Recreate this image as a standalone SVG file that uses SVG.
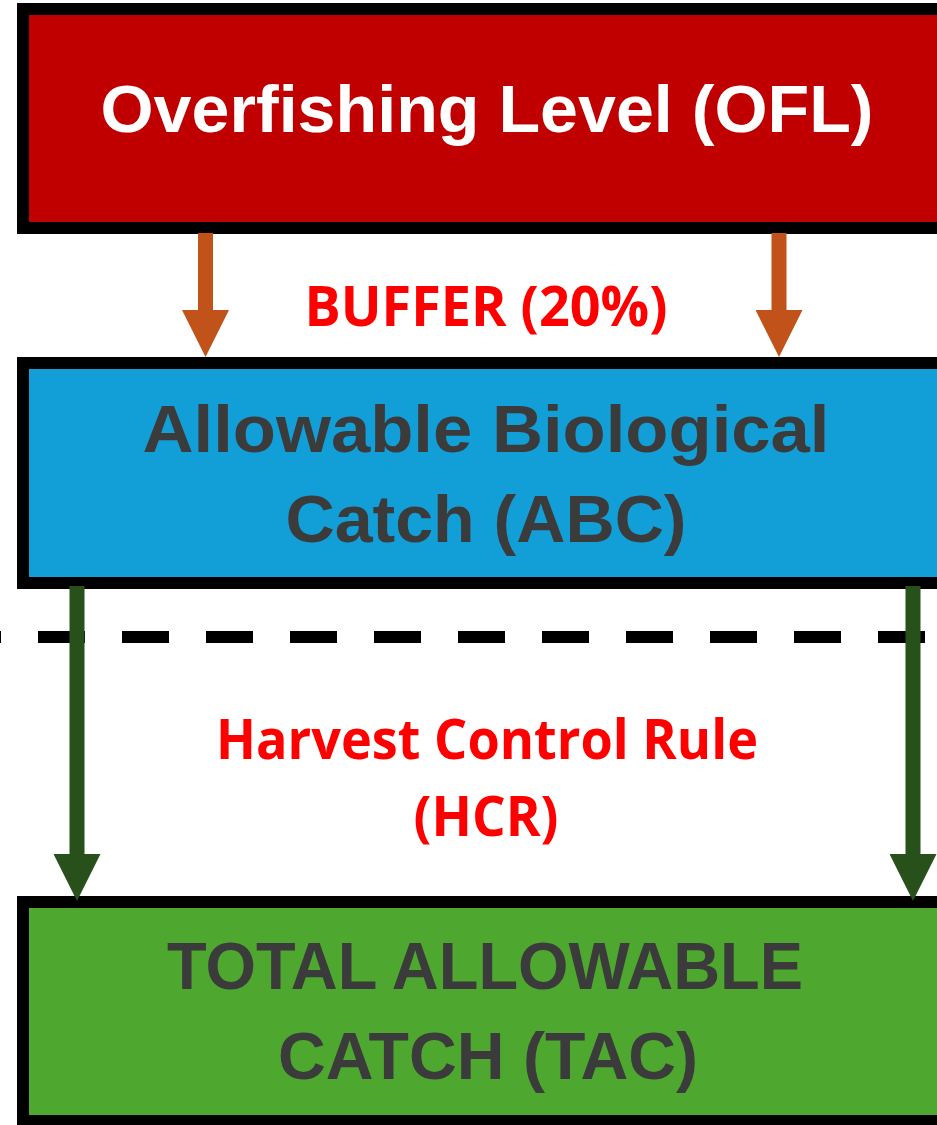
<svg xmlns="http://www.w3.org/2000/svg" width="937" height="1125" viewBox="0 0 937 1125">
  <style>
    .box { stroke: #000; stroke-width: 12; }
    .title { font-family: "Liberation Sans", Arial, sans-serif; font-weight: bold; font-size: 66px; text-anchor: middle; }
    .dark { fill: #3B3B3B; }
    .label { font-family: "Open Sans", "Liberation Sans", sans-serif; font-weight: bold; font-size: 56px; text-anchor: middle; fill: #FF0000; }
  </style>
  <defs>
    <marker id="headOrange" markerUnits="userSpaceOnUse" viewBox="0 -23.5 47 47" refX="0" refY="0" markerWidth="47" markerHeight="47" orient="auto">
      <path d="M0,-23.5 L47,0 L0,23.5 z" fill="#C0521A"/>
    </marker>
    <marker id="headGreen" markerUnits="userSpaceOnUse" viewBox="0 -23.5 47 47" refX="0" refY="0" markerWidth="47" markerHeight="47" orient="auto">
      <path d="M0,-23.5 L47,0 L0,23.5 z" fill="#27501A"/>
    </marker>
  </defs>
  <rect width="937" height="1125" fill="#FFFFFF"/>

  <g id="ofl">
    <rect class="box" x="23" y="9" width="1000" height="219" fill="#C00000"/>
    <text class="title" x="487" y="132" fill="#FFFFFF" textLength="773" lengthAdjust="spacingAndGlyphs">Overfishing Level (OFL)</text>
  </g>

  <g id="abc">
    <rect class="box" x="23" y="363" width="1000" height="220" fill="#129ED6"/>
    <text class="title dark" x="486" y="452" textLength="687" lengthAdjust="spacingAndGlyphs">Allowable Biological</text>
    <text class="title dark" x="486" y="542" textLength="401" lengthAdjust="spacingAndGlyphs">Catch (ABC)</text>
  </g>

  <g id="tac">
    <rect class="box" x="23" y="902" width="1000" height="219" fill="#4EA72E"/>
    <text class="title dark" x="485" y="989" textLength="636" lengthAdjust="spacingAndGlyphs">TOTAL ALLOWABLE</text>
    <text class="title dark" x="488" y="1079" textLength="420" lengthAdjust="spacingAndGlyphs">CATCH (TAC)</text>
  </g>

  <g id="divider">
    <line x1="-46" y1="637" x2="937" y2="637" stroke="#000" stroke-width="12" stroke-dasharray="47 37"/>
  </g>

  <g id="connectors">
    <line x1="205.5" y1="233" x2="205.5" y2="310" stroke="#C0521A" stroke-width="15" marker-end="url(#headOrange)"/>
    <line x1="779" y1="233" x2="779" y2="310" stroke="#C0521A" stroke-width="15" marker-end="url(#headOrange)"/>
    <line x1="77" y1="586" x2="77" y2="854" stroke="#27501A" stroke-width="15" marker-end="url(#headGreen)"/>
    <line x1="913" y1="586" x2="913" y2="854" stroke="#27501A" stroke-width="15" marker-end="url(#headGreen)"/>
  </g>

  <g id="labels">
    <text class="label" x="486" y="326" textLength="363" lengthAdjust="spacingAndGlyphs">BUFFER (20%)</text>
    <text class="label" x="487" y="759" textLength="542" lengthAdjust="spacingAndGlyphs">Harvest Control Rule</text>
    <text class="label" x="486" y="836" textLength="145" lengthAdjust="spacingAndGlyphs">(HCR)</text>
  </g>
</svg>
